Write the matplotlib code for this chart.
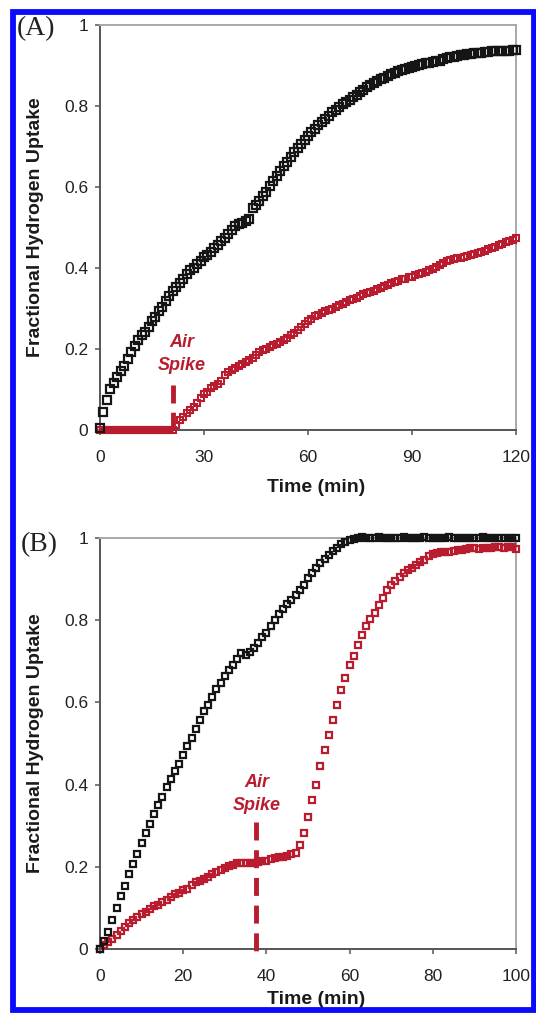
import matplotlib
matplotlib.use("Agg")
import matplotlib.pyplot as plt
from matplotlib.patches import Rectangle
import numpy as np

RED = "#b81c2e"
BLACK = "#151515"

# ---- panel A: 0-120 min, air spike at ~21 min ----
time_a = list(range(0, 121))
black_a = [
    0.005, 0.045, 0.074, 0.102, 0.117, 0.130, 0.145, 0.158, 0.176, 0.193,
    0.207, 0.222, 0.234, 0.241, 0.255, 0.268, 0.279, 0.293, 0.304, 0.318,
    0.330, 0.343, 0.352, 0.364, 0.373, 0.385, 0.394, 0.401, 0.410, 0.418,
    0.427, 0.433, 0.440, 0.450, 0.458, 0.466, 0.474, 0.484, 0.495, 0.503,
    0.508, 0.512, 0.516, 0.520, 0.548, 0.556, 0.565, 0.577, 0.588, 0.602,
    0.615, 0.628, 0.640, 0.651, 0.662, 0.675, 0.686, 0.697, 0.707, 0.716,
    0.726, 0.735, 0.743, 0.752, 0.760, 0.768, 0.776, 0.784, 0.791, 0.798,
    0.804, 0.810, 0.816, 0.822, 0.828, 0.834, 0.840, 0.846, 0.851, 0.856,
    0.861, 0.866, 0.870, 0.874, 0.878, 0.882, 0.886, 0.889, 0.892, 0.895,
    0.897, 0.899, 0.901, 0.903, 0.905, 0.906, 0.908, 0.910, 0.912, 0.915,
    0.918, 0.920, 0.922, 0.924, 0.926, 0.927, 0.928, 0.929, 0.930, 0.931,
    0.932, 0.933, 0.934, 0.935, 0.935, 0.936, 0.936, 0.937, 0.937, 0.938,
    0.938,
]
red_a = [
    0.0, 0.0, 0.0, 0.0, 0.0, 0.0, 0.0, 0.0, 0.0, 0.0,
    0.0, 0.0, 0.0, 0.0, 0.0, 0.0, 0.0, 0.0, 0.0, 0.0,
    0.0, 0.0, 0.013, 0.024, 0.033, 0.041, 0.050, 0.058, 0.067, 0.078,
    0.088, 0.095, 0.103, 0.109, 0.113, 0.122, 0.135, 0.143, 0.149, 0.154,
    0.158, 0.163, 0.167, 0.172, 0.178, 0.186, 0.192, 0.197, 0.201, 0.205,
    0.209, 0.213, 0.218, 0.222, 0.228, 0.234, 0.240, 0.247, 0.255, 0.262,
    0.268, 0.275, 0.281, 0.285, 0.289, 0.293, 0.297, 0.300, 0.304, 0.308,
    0.312, 0.316, 0.320, 0.323, 0.327, 0.331, 0.335, 0.338, 0.341, 0.344,
    0.348, 0.351, 0.355, 0.358, 0.362, 0.366, 0.369, 0.372, 0.374, 0.377,
    0.379, 0.382, 0.385, 0.388, 0.391, 0.395, 0.398, 0.403, 0.408, 0.413,
    0.417, 0.420, 0.422, 0.424, 0.425, 0.427, 0.429, 0.432, 0.435, 0.437,
    0.440, 0.443, 0.447, 0.450, 0.453, 0.456, 0.460, 0.463, 0.466, 0.470,
    0.474,
]
spike_a = 21

# ---- panel B: 0-100 min, air spike at ~37.5 min ----
time_b = list(range(0, 101))
black_b = [
    0.000, 0.020, 0.042, 0.070, 0.100, 0.128, 0.154, 0.183, 0.207, 0.232,
    0.257, 0.282, 0.305, 0.328, 0.350, 0.370, 0.393, 0.414, 0.432, 0.450,
    0.472, 0.495, 0.513, 0.535, 0.557, 0.578, 0.594, 0.612, 0.632, 0.648,
    0.665, 0.678, 0.690, 0.706, 0.720, 0.716, 0.722, 0.732, 0.745, 0.758,
    0.770, 0.785, 0.800, 0.815, 0.828, 0.840, 0.850, 0.861, 0.873, 0.886,
    0.903, 0.914, 0.926, 0.938, 0.948, 0.958, 0.968, 0.976, 0.985, 0.990,
    0.995, 0.998, 1.000, 1.002, 0.999, 1.001, 1.000, 1.002, 0.999, 1.000,
    1.001, 1.000, 0.999, 1.002, 1.000, 1.001, 0.999, 1.000, 1.002, 1.000,
    0.999, 1.001, 1.000, 1.000, 1.002, 0.999, 1.000, 1.001, 1.000, 0.999,
    1.001, 1.000, 1.002, 1.000, 0.999, 1.001, 1.000, 1.000, 1.001, 1.000,
    1.000,
]
red_b = [
    0.000, 0.010, 0.018, 0.025, 0.034, 0.044, 0.054, 0.063, 0.070, 0.078,
    0.085, 0.091, 0.098, 0.104, 0.108, 0.114, 0.120, 0.127, 0.133, 0.137,
    0.143, 0.147, 0.156, 0.162, 0.166, 0.170, 0.176, 0.183, 0.187, 0.193,
    0.198, 0.201, 0.204, 0.209, 0.210, 0.210, 0.210, 0.209, 0.211, 0.215,
    0.214, 0.219, 0.221, 0.223, 0.224, 0.227, 0.230, 0.233, 0.252, 0.283,
    0.322, 0.362, 0.400, 0.445, 0.484, 0.520, 0.558, 0.594, 0.630, 0.660,
    0.690, 0.713, 0.740, 0.765, 0.785, 0.803, 0.818, 0.838, 0.855, 0.874,
    0.886, 0.895, 0.906, 0.914, 0.921, 0.928, 0.934, 0.941, 0.947, 0.955,
    0.960, 0.963, 0.966, 0.967, 0.967, 0.969, 0.971, 0.971, 0.973, 0.975,
    0.975, 0.974, 0.976, 0.976, 0.975, 0.977, 0.978, 0.976, 0.977, 0.978,
    0.974,
]
spike_b = 37.5

W, H = 536, 1013
fig = plt.figure(figsize=(W / 100, H / 100), dpi=100)
fig.patch.set_facecolor("white")


def px_axes(left, top, right, bottom):
    return fig.add_axes([left / W, 1 - bottom / H, (right - left) / W, (bottom - top) / H])


def style(ax, xmax, xstep):
    ax.set_xlim(0, xmax)
    ax.set_ylim(0, 1)
    ax.set_xticks(np.arange(0, xmax + 1, xstep))
    ax.set_yticks([0, 0.2, 0.4, 0.6, 0.8, 1])
    ax.set_yticklabels(["0", "0.2", "0.4", "0.6", "0.8", "1"])
    for s in ("left", "bottom"):
        ax.spines[s].set_color("#555555")
        ax.spines[s].set_linewidth(1.4)
    for s in ("top", "right"):
        ax.spines[s].set_color("#a8a8a8")
        ax.spines[s].set_linewidth(1.4)
    ax.tick_params(direction="out", length=3.6, width=1.1, color="#555555",
                   labelsize=12.5, labelcolor="#222222")
    ax.tick_params(axis="x", pad=11)
    ax.tick_params(axis="y", pad=5)
    for lab in ax.get_xticklabels() + ax.get_yticklabels():
        lab.set_family("Liberation Sans")


def labels(ax, xlab_y):
    ax.text(-0.155, 0.5, "Fractional Hydrogen Uptake", transform=ax.transAxes,
            rotation=90, ha="center", va="center", fontsize=14,
            fontweight="bold", family="Liberation Sans", color="#1a1a1a")
    ax.text(0.52, xlab_y, "Time (min)", transform=ax.transAxes,
            ha="center", va="center", fontsize=14, fontweight="bold",
            family="Liberation Sans", color="#1a1a1a")


# Panel A
ax1 = px_axes(100, 25, 516, 430)
style(ax1, 120, 30)
labels(ax1, -0.143)
pre = [t for t in time_a if t <= spike_a]
ax1.plot(pre, red_a[:len(pre)], color=RED, lw=5, solid_capstyle="butt",
         clip_on=False, zorder=3)
ax1.plot(time_a, red_a, "s", mfc="none", mec=RED, ms=4.4, mew=1.5,
         clip_on=False, zorder=4)
ax1.plot(time_a, black_a, "s", mfc="none", mec=BLACK, ms=6.2, mew=1.6,
         clip_on=False, zorder=5)
ax1.plot([spike_a, spike_a], [0.11, 0.0], color=RED, lw=3.5,
         linestyle=(0, (3.7, 1.9)), clip_on=False, zorder=4)
for txt, yy in (("Air", 0.205), ("Spike", 0.148)):
    ax1.text(spike_a + 2.5, yy, txt, ha="center", va="baseline", color=RED,
             fontsize=13, fontweight="bold", fontstyle="italic",
             family="Liberation Sans")
fig.text(36 / W, 1 - 29 / H, "(A)", ha="center", va="center", fontsize=20,
         family="Liberation Serif", color="#222222")

# Panel B
ax2 = px_axes(100, 538, 516, 949)
style(ax2, 100, 20)
labels(ax2, -0.124)
ax2.plot(time_b, red_b, "s", mfc="none", mec=RED, ms=3.8, mew=1.6,
         clip_on=False, zorder=4)
ax2.plot(time_b, black_b, "s", mfc="none", mec=BLACK, ms=3.8, mew=1.6,
         clip_on=False, zorder=5)
ax2.plot([spike_b, spike_b], [0.31, -0.017], color=RED, lw=3.5,
         linestyle=(0, (3.7, 2.0)), clip_on=False, zorder=6)
for txt, yy in (("Air", 0.395), ("Spike", 0.338)):
    ax2.text(spike_b + 0.3, yy, txt, ha="center", va="baseline", color=RED,
             fontsize=13, fontweight="bold", fontstyle="italic",
             family="Liberation Sans")
fig.text(39 / W, 1 - 545 / H, "(B)", ha="center", va="center", fontsize=20,
         family="Liberation Serif", color="#222222")

# blue frame round the whole figure
fig.patches.append(Rectangle((12.5 / W, 1 - 1010 / H), (534 - 12.5) / W,
                             (1010 - 12) / H, transform=fig.transFigure,
                             fill=False, edgecolor="#0a0aff", lw=4.2,
                             zorder=10))

fig.savefig("out.png", dpi=100)
